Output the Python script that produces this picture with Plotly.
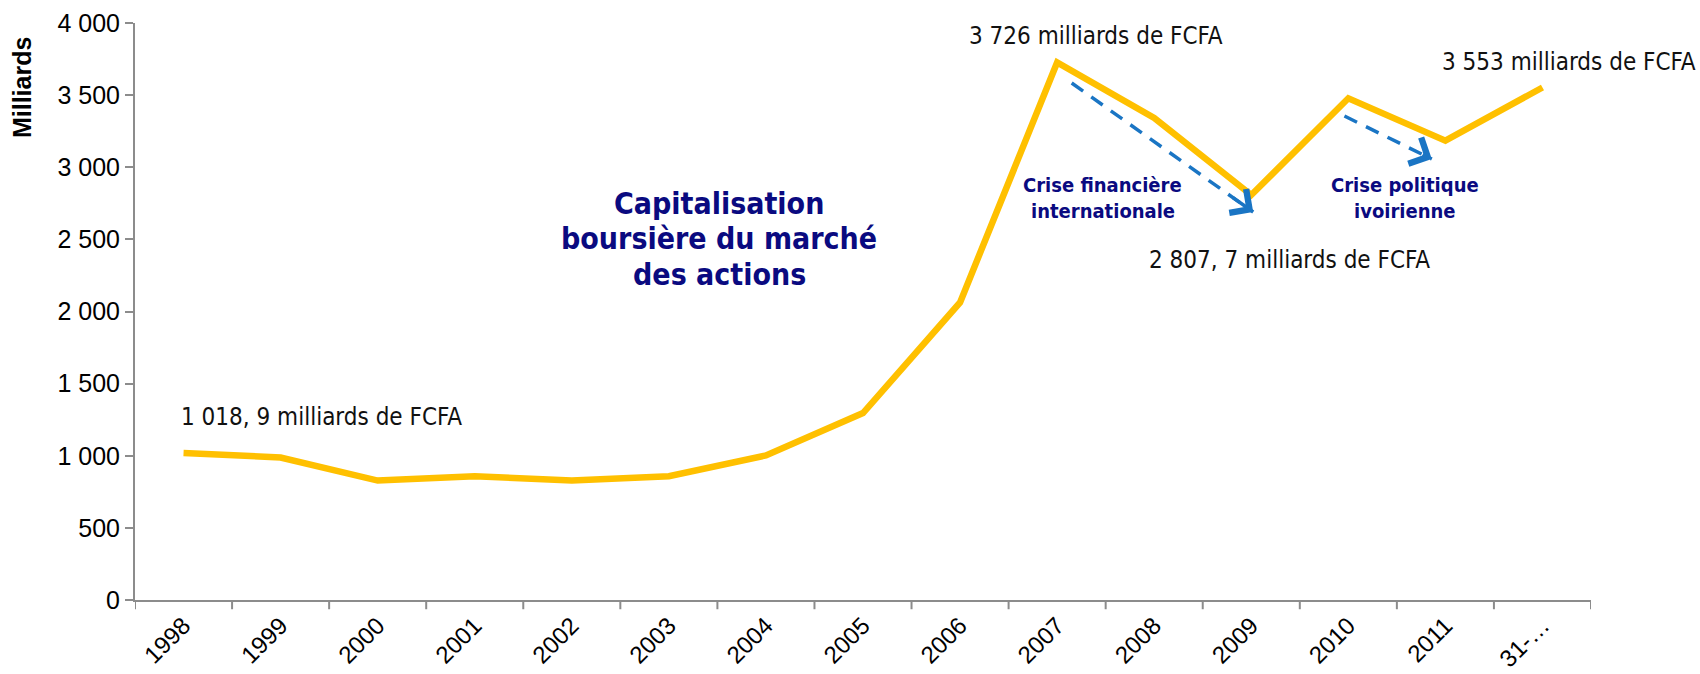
import plotly.graph_objects as go

categories = ["1998", "1999", "2000", "2001", "2002", "2003", "2004", "2005",
              "2006", "2007", "2008", "2009", "2010", "2011", "31-…"]
capitalisation = [1018.9, 988, 828, 858, 828, 858, 1002, 1296,
                  2063, 3726, 3342, 2807.7, 3478, 3184, 3553]

y_ticks = [0, 500, 1000, 1500, 2000, 2500, 3000, 3500, 4000]

value_labels = [
    ("1 018, 9 milliards de FCFA", -0.05, 1269, "left"),
    ("3 726 milliards de FCFA", 9.40, 3910, "center"),
    ("2 807, 7 milliards de FCFA", 11.39, 2357, "center"),
]
# last label lies beyond the plot area -> placed in paper coordinates
last_label = ("3 553 milliards de FCFA", 1.0735, 0.932)

crisis_arrows = [
    ((9.15, 3584), (11.02, 2690)),
    ((11.96, 3355), (12.86, 3057)),
]

crisis_labels = [
    ("Crise financière", 9.47, 2880),
    ("internationale", 9.47, 2700),
    ("Crise politique", 12.58, 2880),
    ("ivoirienne", 12.58, 2700),
]

title_lines = [
    ("Capitalisation", 5.52, 2752),
    ("boursière du marché", 5.52, 2503),
    ("des actions", 5.52, 2260),
]

NAVY = "#0A0A80"
BLUE = "#1A75C4"
GOLD = "#FFC000"
AXIS = "#8C8C8C"

fig = go.Figure()
fig.add_trace(go.Scatter(
    x=list(range(len(categories))), y=capitalisation, mode="lines",
    line=dict(color=GOLD, width=6.5), showlegend=False, hoverinfo="skip",
))

for (x0, y0), (x1, y1) in crisis_arrows:
    fig.add_trace(go.Scatter(
        x=[x0, x1], y=[y0, y1], mode="lines",
        line=dict(color=BLUE, width=3.5, dash="14px,10px"),
        showlegend=False, hoverinfo="skip",
    ))
    fig.add_annotation(
        x=x1, y=y1, ax=x1 - 0.12 * (x1 - x0), ay=y1 - 0.12 * (y1 - y0),
        xref="x", yref="y", axref="x", ayref="y",
        showarrow=True, arrowhead=4, arrowsize=1.6, arrowwidth=3.5,
        arrowcolor=BLUE, text="",
    )

for text, x, y, anchor in value_labels:
    fig.add_annotation(
        x=x, y=y, xref="x", yref="y", text=text, showarrow=False,
        xanchor=anchor, yanchor="middle",
        font=dict(family="DejaVu Sans Condensed", size=24, color="#111111"),
    )

fig.add_annotation(
    x=last_label[1], y=last_label[2], xref="paper", yref="paper",
    text=last_label[0], showarrow=False, xanchor="right", yanchor="middle",
    font=dict(family="DejaVu Sans Condensed", size=24, color="#111111"),
)

for text, x, y in crisis_labels:
    fig.add_annotation(
        x=x, y=y, xref="x", yref="y", text=f"<b>{text}</b>", showarrow=False,
        xanchor="center", yanchor="middle",
        font=dict(family="DejaVu Sans Condensed", size=20, color=NAVY),
    )

for text, x, y in title_lines:
    fig.add_annotation(
        x=x, y=y, xref="x", yref="y", text=f"<b>{text}</b>",
        showarrow=False, xanchor="center", yanchor="middle",
        font=dict(family="DejaVu Sans Condensed", size=30, color=NAVY),
    )

fig.add_annotation(
    x=-0.078, y=0.888, xref="paper", yref="paper", text="<b>Milliards</b>",
    showarrow=False, textangle=-90, xanchor="center", yanchor="middle",
    font=dict(family="Liberation Sans", size=25, color="#000000"),
)

fig.update_layout(
    width=1700, height=674,
    margin=dict(l=135, r=109, t=23, b=74, autoexpand=False),
    paper_bgcolor="white", plot_bgcolor="white",
    showlegend=False,
)

fig.update_xaxes(
    tickmode="array", tickvals=list(range(len(categories))), ticktext=categories,
    range=[-0.5, len(categories) - 0.5], automargin=False,
    tickangle=-45, showgrid=False, zeroline=False,
    showline=True, linecolor=AXIS, linewidth=2,
    ticks="",
    tickfont=dict(family="Liberation Sans", size=24, color="#000000"),
)

fig.update_yaxes(
    range=[0, 4000], tickmode="array", tickvals=y_ticks, automargin=False,
    ticktext=[f"{v:,}".replace(",", " ") for v in y_ticks],
    showgrid=False, zeroline=False,
    showline=True, linecolor=AXIS, linewidth=2,
    ticks="outside", ticklen=8, tickwidth=2, tickcolor=AXIS,
    tickfont=dict(family="Liberation Sans", size=25, color="#000000"),
)

# category boundary ticks on x axis (Excel style)
for i in range(len(categories) + 1):
    fig.add_shape(
        type="line", xref="x", yref="paper",
        x0=i - 0.5, x1=i - 0.5, y0=0, y1=-0.016,
        line=dict(color=AXIS, width=2),
    )

fig.write_html("out.html", config={"displayModeBar": False},
               post_script="document.body.style.margin='0';")
